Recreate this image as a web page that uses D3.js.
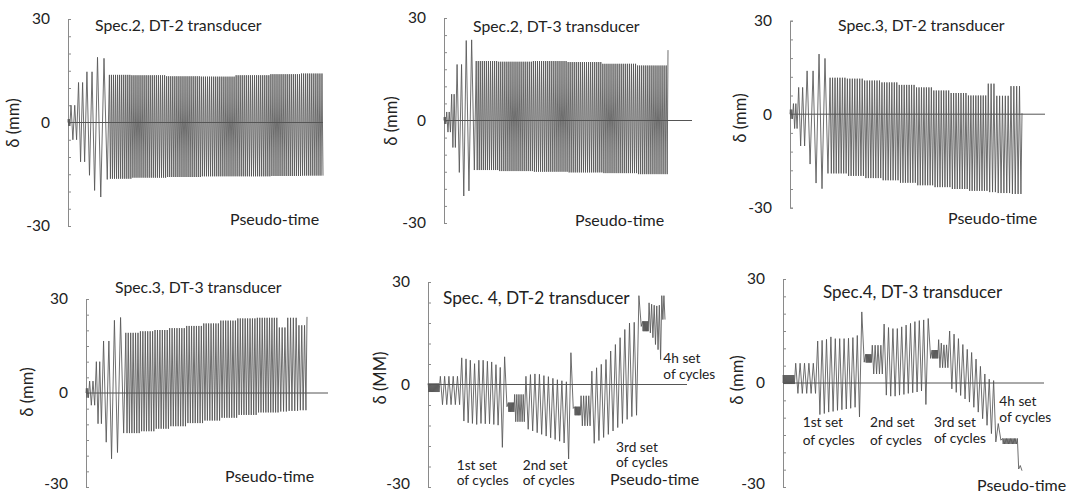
<!DOCTYPE html>
<html lang="en">
<head>
<meta charset="utf-8">
<title>Displacement histories</title>
<script src="https://d3js.org/d3.v7.min.js"></script>
<style>
  body { margin: 0; background: #fff; }
  svg text { font-family: Lato, "Open Sans", sans-serif; fill: #222; }
</style>
</head>
<body>
<svg id="chart" width="1071" height="494"></svg>
<script>
// groups of cycles: [cycles, pseudo-time per cycle, upper peak, lower peak] in mm
var spec2dt2 = [
  [2, 0.45, 1, -1], [2, 1.6, 5, -5], [2, 1.75, 11.6, -11.4],
  [1, 2.2, 14.7, -15.3], [1, 2.2, 14.7, -19.7], [1, 2.8, 18.9, -21.6], [1, 2.8, 18.6, -16.5],
  [11, 0.88, 13.8, -16.3], [17, 0.88, 13.7, -16], [17, 0.88, 13.4, -15.8], [17, 0.88, 13.3, -15.6],
  [17, 0.88, 13.7, -15.6], [15, 0.88, 14, -15.5], [11, 0.88, 14.2, -15.4]
];
var spec2dt3 = [
  [2, 0.45, 1, -1], [2, 1.05, 2.5, -3.4], [2, 1.05, 7.7, -7.9],
  [1, 1.9, 16.4, -15.2], [1, 1.9, 16.4, -22.1], [1, 2.3, 23.4, -20.6], [1, 2.3, 23.6, -14.5],
  [11, 0.87, 17.4, -14.5], [17, 0.87, 17.2, -14.8], [17, 0.87, 17.4, -15], [17, 0.87, 17.1, -15.2],
  [17, 0.87, 16.6, -15.4], [15, 0.87, 16.1, -15.7], [1, 0.5, 20.6, null]
];
var spec3dt2 = [
  [2, 0.5, 1.5, -1.5], [2, 0.85, 3.4, -4.6], [2, 1.4, 8.6, -10.2],
  [1, 2.1, 13.9, -16], [1, 2.1, 13.9, -22.1], [1, 2.1, 19.3, -23.9], [1, 2.1, 17.9, -19],
  [7, 0.87, 11.7, -19], [7, 0.87, 11.4, -19.8], [7, 0.87, 10.8, -20.5], [7, 0.87, 10.2, -21.2],
  [7, 0.87, 9.4, -22], [7, 0.87, 8.6, -22.8], [7, 0.87, 7.6, -23.4], [7, 0.87, 6.8, -24],
  [8, 0.87, 6, -24.6], [3, 1, 9.8, -25], [5, 1, 5.9, -25.3], [4, 1, 9, -25.6], [1, 0.5, 0.3, null]
];
var spec3dt3 = [
  [2, 0.5, 1.5, -1.5], [2, 1.2, 3.8, -3.9], [2, 1.2, 10, -9.8],
  [1, 1.9, 16.6, -15.7], [1, 1.9, 16.6, -21], [1, 2.2, 23.2, -19], [1, 2.2, 24.1, -12.8],
  [6, 0.87, 19.2, -12.8], [6, 0.87, 19.7, -12.2], [6, 0.87, 20.1, -11.4], [7, 0.87, 20.7, -10.6],
  [7, 0.87, 21.4, -9.6], [7, 0.87, 22.2, -8.8], [7, 0.87, 23.1, -7.9], [8, 0.87, 23.8, -7],
  [9, 0.87, 24, -6.2], [3, 1, 20.9, -5.9], [4, 1, 24, -5.7], [3, 1, 21.6, -5.5], [1, 0.5, 24.3, null]
];
var spec4dt2 = [
  [12, 0.22, 0.3, -2.2], [5, 1, 2.4, -5.9],
  // 1st set
  [1, 1, 7.8, -10.7], [1, 1, 7.5, -11.2], [1, 1, 7.1, -11.4], [1, 1, 6.1, -11.7], [1, 1, 7.1, -11.4],
  [1, 1, 7.1, -11.5], [1, 1, 6.8, -11.5], [1, 1, 6.6, -11.7], [1, 1, 5.8, -11.9], [1, 1, 5, -18.4],
  [1, 1.1, 8.1, -6.5], [7, 0.2, -5.3, -8], [5, 0.5, -2.9, -10.9],
  // 2nd set
  [1, 1.05, 2.4, -13.1], [1, 1.05, 2.9, -13.6], [1, 1.05, 3.1, -14.1], [1, 1.05, 3, -14.6], [1, 1.05, 2.6, -15.1],
  [1, 1.05, 2.3, -15.6], [1, 1.05, 1.8, -16.1], [1, 1.05, 1.4, -16.6], [1, 1.05, 1.1, -17.1], [1, 1.05, 0.8, -21.8],
  [1, 1.1, 9.3, -7], [7, 0.2, -6.5, -9], [4, 0.6, -3.3, -12.1],
  // 3rd set
  [1, 1.1, 3.9, -17.2], [1, 1.1, 4.9, -16.4], [1, 1.1, 5.9, -15.5], [1, 1.1, 7.3, -14.6], [1, 1.1, 9.8, -13.6],
  [1, 1.1, 11.7, -12.6], [1, 1.1, 13.7, -11.4], [1, 1.1, 16.1, -10.2], [1, 1.1, 18, -9.4], [1, 1.1, 18.2, -9],
  // 4th set
  [1, 1.1, 26, 17], [7, 0.2, 18.5, 15.6],
  [1, 0.6, 23.9, 15.1], [1, 0.6, 23.5, 13.7], [1, 0.6, 23.2, 11.7], [1, 0.6, 23, 10.2], [1, 0.6, 23.2, 7.3],
  [1, 0.5, 26, 19], [1, 0.5, 26, 19]
];
var spec4dt3 = [
  [12, 0.22, 2.3, -0.3], [5, 1, 5.7, -3],
  // 1st set
  [1, 1, 12.1, -9.1], [1, 1, 12.3, -8.8], [1, 1, 12.6, -8.4], [1, 1, 13.3, -8.2], [1, 1, 12.8, -7.9],
  [1, 1, 12.8, -7.7], [1, 1, 12.8, -7.5], [1, 1, 12.9, -7.3], [1, 1, 13.1, -7], [1, 1, 13.7, -9.8],
  [1, 1.1, 20.5, 6], [7, 0.2, 8.3, 5.9], [4, 0.65, 10.9, 2.6],
  // 2nd set
  [1, 1, 17, -3.5], [1, 1, 16, -3.8], [1, 1, 15.7, -3.8], [1, 1, 15.7, -3.5], [1, 1, 16.2, -3.3],
  [1, 1, 16.7, -3], [1, 1, 17.2, -2.8], [1, 1, 17.7, -2.6], [1, 1, 18, -2.3], [1, 1, 18.2, -6.2],
  [1, 1.1, 18.6, 7.1], [7, 0.2, 9.5, 7.1],
  [1, 0.6, 12.5, 4.4], [1, 0.6, 11.5, 4.4], [1, 0.6, 11, 4.4], [1, 0.6, 11, 4.4],
  // 3rd set
  [1, 1, 15, -1.7], [1, 1, 14.1, -2.7], [1, 1, 12.8, -3.6], [1, 1, 11.1, -4.6], [1, 1, 9.7, -5.5],
  [1, 1, 8.8, -7], [1, 1, 6.9, -8.4], [1, 1, 4.8, -10.3], [1, 1, 2.6, -12.2], [1, 1, 1.1, -14.6], [1, 1, 0.7, -17],
  // 4th set
  [1, 1.2, -11.7, -16.5], [11, 0.3, -16, -17.6], [1, 0.6, -16, -24.8], [1, 0.8, -23.8, -25.3]
];

var titles = ["Spec.2, DT-2 transducer", "Spec.2, DT-3 transducer", "Spec.3, DT-2 transducer",
              "Spec.3, DT-3 transducer", "Spec. 4, DT-2 transducer", "Spec.4, DT-3 transducer"];
var yLabels = ["δ (mm)", "δ (mm)", "δ (mm)", "δ (mm)", "δ (MM)", "δ (mm)"];
var tickLabels = [30, 0, -30];
var setNames = ["1st set", "2nd set", "3rd set", "4h set"];
var setLine2 = "of cycles";
var xLabel = "Pseudo-time";

var series = [spec2dt2, spec2dt3, spec3dt2, spec3dt3, spec4dt2, spec4dt3];

// where each small plot sits on the page
var panels = [
  {ax: 68,  x1: 323,  xEnd: 323,  yTop: 19,   yBot: 226, step: 5, title: [95, 31, 15.8],  ylab: [13, 123],  pt: [230, 225], notes: []},
  {ax: 444, x1: 668,  xEnd: 692,  yTop: 18,   yBot: 223, step: 5, title: [473, 31.5, 15.8], ylab: [391, 121], pt: [575, 225.5], notes: []},
  {ax: 790, x1: 1022, xEnd: 1045, yTop: 20.7, yBot: 207.7, step: 6, title: [838, 30.7, 15.8], ylab: [740, 118], pt: [948, 224], notes: []},
  {ax: 86,  x1: 307,  xEnd: 328,  yTop: 299,  yBot: 487, step: 5, title: [115, 293.3, 15.8], ylab: [27, 392], pt: [225, 482], notes: []},
  {ax: 428, x1: 665,  xEnd: 687,  yTop: 282,  yBot: 487, step: 6, title: [443, 304, 17.3], ylab: [380, 378], pt: [610, 485],
    notes: [[456.7, 470, 485], [522.7, 470, 485], [616, 451.7, 466.7], [663.3, 363.3, 379.3]]},
  {ax: 783, x1: 1022, xEnd: 1044, yTop: 279,  yBot: 487, step: 5, title: [823, 297.7, 17], ylab: [737, 380], pt: [977, 490.5],
    notes: [[802.7, 427.3, 445], [870, 427.3, 445], [934, 426.7, 442.7], [999.3, 406, 422.3]]}
];

var svg = d3.select("#chart");

panels.forEach(function(p, i) {
  var runs = series[i];

  // turn the cycle groups into peak points along pseudo-time
  var pts = [[0, 0]], t = 0;
  runs.forEach(function(r) {
    for (var c = 0; c < r[0]; c++) {
      pts.push([t + r[1] * 0.25, r[2]]);
      if (r[3] !== null) pts.push([t + r[1] * 0.75, r[3]]);
      t += r[1];
    }
  });

  var x = d3.scaleLinear().domain([0, d3.max(pts, d => d[0])]).range([p.ax, p.x1]);
  var y = d3.scaleLinear().domain([-30, 30]).range([p.yBot, p.yTop]);

  var g = svg.append("g");

  // y axis, ticks pointing inwards, only 30 / 0 / -30 labelled
  var axis = d3.axisLeft(y)
    .tickValues(d3.range(-30, 30.001, p.step))
    .tickSizeInner(-3)
    .tickSizeOuter(-3)
    .tickPadding(18)
    .tickFormat(function(d) { return tickLabels.indexOf(d) >= 0 ? String(d) : ""; });

  var ag = g.append("g")
    .attr("transform", "translate(" + p.ax + ",0)")
    .call(axis);
  ag.select(".domain").attr("stroke", "#8a8a8a");
  ag.selectAll(".tick line").attr("stroke", "#8a8a8a");
  ag.selectAll(".tick text")
    .attr("font-size", "15.5px")
    .attr("font-family", "Lato, 'Open Sans', sans-serif")
    .attr("fill", "#222")
    .attr("dy", function(d) { return y(d) > 480 ? "0.1em" : "0.32em"; });

  // zero line
  g.append("line")
    .attr("x1", p.ax).attr("x2", p.xEnd)
    .attr("y1", y(0)).attr("y2", y(0))
    .attr("stroke", "#555").attr("stroke-width", 1);

  // displacement history
  g.append("path")
    .datum(pts)
    .attr("fill", "none")
    .attr("stroke", "#555")
    .attr("stroke-width", 0.85)
    .attr("stroke-linejoin", "round")
    .attr("d", d3.line().x(d => x(d[0])).y(d => y(d[1])));

  g.append("text")
    .attr("x", p.title[0]).attr("y", p.title[1])
    .attr("font-size", p.title[2] + "px")
    .text(titles[i]);

  g.append("text")
    .attr("transform", "translate(" + p.ylab[0] + "," + p.ylab[1] + ") rotate(-90)")
    .attr("text-anchor", "middle")
    .attr("dominant-baseline", "central")
    .attr("font-size", "16.5px")
    .text(yLabels[i]);

  g.append("text")
    .attr("x", p.pt[0]).attr("y", p.pt[1])
    .attr("font-size", "16px")
    .text(xLabel);

  p.notes.forEach(function(n, k) {
    g.append("text").attr("x", n[0]).attr("y", n[1]).attr("font-size", "13.7px").text(setNames[k]);
    g.append("text").attr("x", n[0]).attr("y", n[2]).attr("font-size", "13.7px").text(setLine2);
  });
});
</script>
</body>
</html>
